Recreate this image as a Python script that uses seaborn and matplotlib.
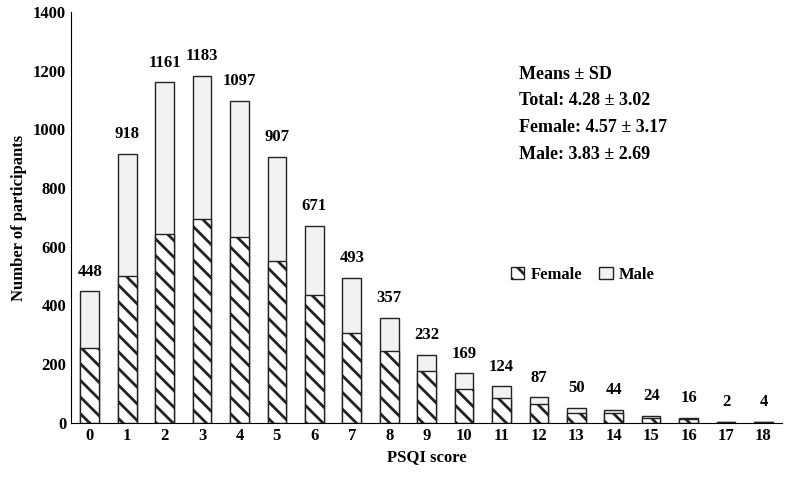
import matplotlib
matplotlib.use("Agg")
import matplotlib.pyplot as plt
import seaborn as sns
import pandas as pd

scores = [str(i) for i in range(19)]
totals = [448, 918, 1161, 1183, 1097, 907, 671, 493, 357, 232, 169, 124, 87, 50, 44, 24, 16, 2, 4]
female = [255, 500, 645, 695, 635, 550, 435, 305, 245, 175, 115, 85, 65, 35, 35, 18, 12, 2, 3]

plt.rcParams["font.family"] = "Liberation Serif"
plt.rcParams["font.weight"] = "bold"
plt.rcParams["hatch.color"] = "#666666"
plt.rcParams["hatch.linewidth"] = 2.0

df = pd.DataFrame({"score": scores, "total": totals, "female": female})
fig, ax = plt.subplots(figsize=(7.9, 4.86), dpi=100)
fig.subplots_adjust(left=0.09, right=0.99, bottom=0.13, top=0.975)

sns.barplot(data=df, x="score", y="total", color="#f2f2f2", edgecolor="#222222",
            linewidth=1.0, width=0.5, saturation=1, ax=ax, label="Male")
sns.barplot(data=df, x="score", y="female", color="white", edgecolor="#222222",
            linewidth=1.0, width=0.5, saturation=1, hatch="\\\\", ax=ax, label="Female")

for i, t in enumerate(totals):
    ax.text(i, t + 40, str(t), ha="center", va="bottom", fontsize=12, fontweight="bold")

ax.set_ylim(0, 1400)
ax.set_yticks(range(0, 1401, 200))
ax.set_xlabel("PSQI score", fontsize=12, fontweight="bold")
ax.set_ylabel("Number of participants", fontsize=12, fontweight="bold")
ax.tick_params(labelsize=12, length=0)
sns.despine(ax=ax)

h, l = ax.get_legend_handles_labels()
ax.legend([h[1], h[0]], [l[1], l[0]], loc="center", bbox_to_anchor=(0.72, 0.36),
          ncol=2, frameon=False, fontsize=12, handlelength=0.8, columnspacing=1.0,
          handletextpad=0.4)

ax.text(0.63, 0.87, "Means ± SD\nTotal: 4.28 ± 3.02\nFemale: 4.57 ± 3.17\nMale: 3.83 ± 2.69",
        transform=ax.transAxes, fontsize=13, fontweight="bold", va="top", linespacing=1.75)

fig.savefig("out.png", dpi=100)
